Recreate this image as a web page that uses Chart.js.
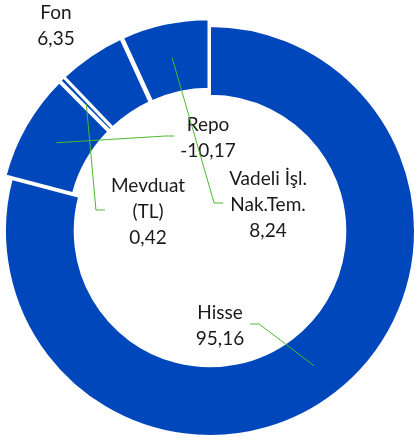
<!DOCTYPE html>
<html>
<head>
<meta charset="utf-8">
<script src="https://cdn.jsdelivr.net/npm/chart.js@4"></script>
<style>
  html, body { margin: 0; padding: 0; background: #fff; }
  canvas { display: block; }
</style>
</head>
<body>
<canvas id="grafik" width="414" height="441"></canvas>
<script>
const kategoriler = [['Hisse'], ['Repo'], ['Mevduat', '(TL)'], ['Fon'], ['Vadeli İşl.', 'Nak.Tem.']];
const degerler = [95.16, -10.17, 0.42, 6.35, 8.24];

// etiketlerin merkeze gore yeri ve cizginin baglandigi taraf
const etiketYerleri = [
    { dx: 10, dy: 95, taraf: 'sag' },
    { dx: -2, dy: -93, taraf: 'sol' },
    { dx: -62, dy: -19, taraf: 'sol' },
    { dx: -154, dy: -205, taraf: null },
    { dx: 58, dy: -26, taraf: 'sol' }
];

// Hisse disindaki dilimleri disari cek
const patlat = {
    id: 'patlat',
    afterDatasetsUpdate(chart) {
        chart.getDatasetMeta(0).data.forEach((arc, i) => {
            if (i === 0) return;
            const orta = (arc.startAngle + arc.endAngle) / 2;
            arc.x += Math.cos(orta) * 7;
            arc.y += Math.sin(orta) * 7;
        });
    }
};

const etiketler = {
    id: 'etiketler',
    afterDatasetsDraw(chart) {
        const ctx = chart.ctx;
        const arcs = chart.getDatasetMeta(0).data;
        const cx = (chart.chartArea.left + chart.chartArea.right) / 2;
        const cy = (chart.chartArea.top + chart.chartArea.bottom) / 2;
        ctx.save();
        ctx.font = '19px Lato';
        ctx.textAlign = 'center';
        ctx.textBaseline = 'middle';
        arcs.forEach((arc, i) => {
            const yer = etiketYerleri[i];
            const satirlar = kategoriler[i].concat(degerler[i].toFixed(2).replace('.', ','));
            const x = cx + yer.dx;
            const y = cy + yer.dy;
            const ust = y - (satirlar.length - 1) * 26 / 2;
            let genislik = 0;
            ctx.fillStyle = '#1a1a1a';
            satirlar.forEach((s, j) => {
                genislik = Math.max(genislik, ctx.measureText(s).width);
                ctx.fillText(s, x, ust + j * 26);
            });
            if (yer.taraf) {
                const p = arc.tooltipPosition();
                const yon = yer.taraf === 'sag' ? 1 : -1;
                const ucX = x + yon * (genislik / 2 + 6);
                const dirsekX = ucX + yon * 9;
                ctx.strokeStyle = '#4cb82e';
                ctx.lineWidth = 1;
                ctx.beginPath();
                ctx.moveTo(ucX, y - 2);
                ctx.lineTo(dirsekX, y - 2);
                ctx.lineTo(p.x, p.y);
                ctx.stroke();
            }
        });
        ctx.restore();
    }
};

new Chart('grafik', {
    type: 'doughnut',
    data: {
        labels: kategoriler,
        datasets: [{
            data: degerler,
            backgroundColor: '#0047bb',
            borderColor: '#ffffff',
            borderWidth: 2
        }]
    },
    options: {
        responsive: false,
        animation: false,
        events: [],
        radius: 205,
        cutout: '66%',
        layout: { padding: { left: 6, right: 0, top: 21, bottom: 0 } },
        plugins: {
            legend: { display: false },
            tooltip: { enabled: false }
        }
    },
    plugins: [patlat, etiketler]
});
</script>
</body>
</html>
